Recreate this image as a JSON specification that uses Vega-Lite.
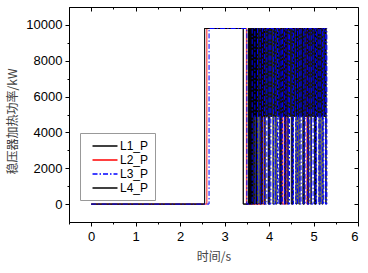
{
  "$schema": "https://vega.github.io/schema/vega-lite/v6.json",
  "width": 289,
  "height": 215,
  "autosize": "none",
  "padding": {"left": 69, "top": 7, "right": 10, "bottom": 51},
  "background": "white",
  "config": {
    "view": {"stroke": "black", "strokeWidth": 1},
    "axis": {"labelFont": "Liberation Sans", "labelFontSize": 13, "labelColor": "black", "titleFont": "Noto Sans CJK SC", "titleFontSize": 12, "titleFontWeight": "normal", "titleColor": "#444444", "domainColor": "black", "tickColor": "black", "grid": false, "format": "d"},
    "legend": {"labelFont": "Liberation Sans", "labelFontSize": 12, "labelColor": "black"}
  },
  "datasets": {
    "d": [
      {"t": 0, "p": 0, "s": "L2_P"}, {"t": 2.60, "p": 9800, "s": "L2_P"}, {"t": 3.49, "p": 0, "s": "L2_P"}, {"t": 3.83, "p": 9800, "s": "L2_P"}, {"t": 3.86, "p": 0, "s": "L2_P"}, {"t": 3.90, "p": 9800, "s": "L2_P"}, {"t": 4.30, "p": 0, "s": "L2_P"}, {"t": 4.34, "p": 9800, "s": "L2_P"}, {"t": 4.37, "p": 0, "s": "L2_P"}, {"t": 4.40, "p": 9800, "s": "L2_P"}, {"t": 4.85, "p": 0, "s": "L2_P"}, {"t": 4.88, "p": 9800, "s": "L2_P"}, {"t": 5.29, "p": 9800, "s": "L2_P"},

      {"t": 0, "p": 0, "s": "L1_P"}, {"t": 2.55, "p": 9800, "s": "L1_P"}, {"t": 3.42, "p": 0, "s": "L1_P"}, {"t": 3.53, "p": 9800, "s": "L1_P"}, {"t": 3.545, "p": 0, "s": "L1_P"}, {"t": 3.56, "p": 9800, "s": "L1_P"}, {"t": 3.575, "p": 0, "s": "L1_P"}, {"t": 3.59, "p": 9800, "s": "L1_P"}, {"t": 3.605, "p": 0, "s": "L1_P"}, {"t": 3.62, "p": 9800, "s": "L1_P"}, {"t": 3.635, "p": 4900, "s": "L1_P"}, {"t": 3.65, "p": 9800, "s": "L1_P"}, {"t": 3.665, "p": 0, "s": "L1_P"}, {"t": 3.68, "p": 9800, "s": "L1_P"}, {"t": 3.695, "p": 4900, "s": "L1_P"}, {"t": 3.71, "p": 9800, "s": "L1_P"}, {"t": 3.73, "p": 0, "s": "L1_P"}, {"t": 3.755, "p": 9800, "s": "L1_P"}, {"t": 3.78, "p": 4900, "s": "L1_P"}, {"t": 3.80, "p": 9800, "s": "L1_P"}, {"t": 3.825, "p": 0, "s": "L1_P"}, {"t": 3.85, "p": 9800, "s": "L1_P"}, {"t": 3.875, "p": 4900, "s": "L1_P"}, {"t": 3.90, "p": 9800, "s": "L1_P"}, {"t": 3.93, "p": 4900, "s": "L1_P"}, {"t": 3.955, "p": 9800, "s": "L1_P"}, {"t": 3.98, "p": 0, "s": "L1_P"}, {"t": 4.005, "p": 9800, "s": "L1_P"}, {"t": 4.03, "p": 4900, "s": "L1_P"}, {"t": 4.055, "p": 9800, "s": "L1_P"}, {"t": 4.085, "p": 0, "s": "L1_P"}, {"t": 4.11, "p": 9800, "s": "L1_P"}, {"t": 4.135, "p": 4900, "s": "L1_P"}, {"t": 4.16, "p": 9800, "s": "L1_P"}, {"t": 4.19, "p": 4900, "s": "L1_P"}, {"t": 4.215, "p": 9800, "s": "L1_P"}, {"t": 4.24, "p": 0, "s": "L1_P"}, {"t": 4.265, "p": 9800, "s": "L1_P"}, {"t": 4.29, "p": 4900, "s": "L1_P"}, {"t": 4.315, "p": 9800, "s": "L1_P"}, {"t": 4.345, "p": 0, "s": "L1_P"}, {"t": 4.37, "p": 9800, "s": "L1_P"}, {"t": 4.395, "p": 4900, "s": "L1_P"}, {"t": 4.42, "p": 9800, "s": "L1_P"}, {"t": 4.45, "p": 4900, "s": "L1_P"}, {"t": 4.475, "p": 9800, "s": "L1_P"}, {"t": 4.50, "p": 0, "s": "L1_P"}, {"t": 4.525, "p": 9800, "s": "L1_P"}, {"t": 4.55, "p": 4900, "s": "L1_P"}, {"t": 4.575, "p": 9800, "s": "L1_P"}, {"t": 4.605, "p": 0, "s": "L1_P"}, {"t": 4.63, "p": 9800, "s": "L1_P"}, {"t": 4.655, "p": 4900, "s": "L1_P"}, {"t": 4.68, "p": 9800, "s": "L1_P"}, {"t": 4.71, "p": 4900, "s": "L1_P"}, {"t": 4.735, "p": 9800, "s": "L1_P"}, {"t": 4.76, "p": 0, "s": "L1_P"}, {"t": 4.785, "p": 9800, "s": "L1_P"}, {"t": 4.81, "p": 4900, "s": "L1_P"}, {"t": 4.835, "p": 9800, "s": "L1_P"}, {"t": 4.865, "p": 0, "s": "L1_P"}, {"t": 4.89, "p": 9800, "s": "L1_P"}, {"t": 4.915, "p": 4900, "s": "L1_P"}, {"t": 4.94, "p": 9800, "s": "L1_P"}, {"t": 4.97, "p": 4900, "s": "L1_P"}, {"t": 4.995, "p": 9800, "s": "L1_P"}, {"t": 5.02, "p": 0, "s": "L1_P"}, {"t": 5.045, "p": 9800, "s": "L1_P"}, {"t": 5.07, "p": 4900, "s": "L1_P"}, {"t": 5.095, "p": 9800, "s": "L1_P"}, {"t": 5.125, "p": 0, "s": "L1_P"}, {"t": 5.15, "p": 9800, "s": "L1_P"}, {"t": 5.175, "p": 4900, "s": "L1_P"}, {"t": 5.20, "p": 9800, "s": "L1_P"}, {"t": 5.23, "p": 4900, "s": "L1_P"}, {"t": 5.255, "p": 9800, "s": "L1_P"}, {"t": 5.275, "p": 0, "s": "L1_P"}, {"t": 5.285, "p": 9800, "s": "L1_P"}, {"t": 5.29, "p": 9800, "s": "L1_P"},

      {"t": 0, "p": 0, "s": "L4_P"}, {"t": 2.55, "p": 9800, "s": "L4_P"}, {"t": 3.42, "p": 0, "s": "L4_P"}, {"t": 3.538, "p": 9800, "s": "L4_P"}, {"t": 3.552, "p": 0, "s": "L4_P"}, {"t": 3.568, "p": 9800, "s": "L4_P"}, {"t": 3.582, "p": 0, "s": "L4_P"}, {"t": 3.598, "p": 9800, "s": "L4_P"}, {"t": 3.612, "p": 0, "s": "L4_P"}, {"t": 3.628, "p": 9800, "s": "L4_P"}, {"t": 3.642, "p": 0, "s": "L4_P"}, {"t": 3.658, "p": 9800, "s": "L4_P"}, {"t": 3.672, "p": 4900, "s": "L4_P"}, {"t": 3.688, "p": 9800, "s": "L4_P"}, {"t": 3.702, "p": 0, "s": "L4_P"}, {"t": 3.718, "p": 9800, "s": "L4_P"}, {"t": 3.742, "p": 4900, "s": "L4_P"}, {"t": 3.768, "p": 9800, "s": "L4_P"}, {"t": 3.79, "p": 0, "s": "L4_P"}, {"t": 3.812, "p": 9800, "s": "L4_P"}, {"t": 3.838, "p": 4900, "s": "L4_P"}, {"t": 3.862, "p": 9800, "s": "L4_P"}, {"t": 3.888, "p": 0, "s": "L4_P"}, {"t": 3.915, "p": 9800, "s": "L4_P"}, {"t": 3.942, "p": 4900, "s": "L4_P"}, {"t": 3.968, "p": 9800, "s": "L4_P"}, {"t": 3.992, "p": 0, "s": "L4_P"}, {"t": 4.018, "p": 9800, "s": "L4_P"}, {"t": 4.042, "p": 4900, "s": "L4_P"}, {"t": 4.07, "p": 9800, "s": "L4_P"}, {"t": 4.097, "p": 4900, "s": "L4_P"}, {"t": 4.122, "p": 9800, "s": "L4_P"}, {"t": 4.148, "p": 0, "s": "L4_P"}, {"t": 4.175, "p": 9800, "s": "L4_P"}, {"t": 4.202, "p": 4900, "s": "L4_P"}, {"t": 4.228, "p": 9800, "s": "L4_P"}, {"t": 4.252, "p": 0, "s": "L4_P"}, {"t": 4.278, "p": 9800, "s": "L4_P"}, {"t": 4.302, "p": 4900, "s": "L4_P"}, {"t": 4.33, "p": 9800, "s": "L4_P"}, {"t": 4.357, "p": 4900, "s": "L4_P"}, {"t": 4.382, "p": 9800, "s": "L4_P"}, {"t": 4.408, "p": 0, "s": "L4_P"}, {"t": 4.435, "p": 9800, "s": "L4_P"}, {"t": 4.462, "p": 4900, "s": "L4_P"}, {"t": 4.488, "p": 9800, "s": "L4_P"}, {"t": 4.512, "p": 0, "s": "L4_P"}, {"t": 4.538, "p": 9800, "s": "L4_P"}, {"t": 4.562, "p": 4900, "s": "L4_P"}, {"t": 4.59, "p": 9800, "s": "L4_P"}, {"t": 4.617, "p": 4900, "s": "L4_P"}, {"t": 4.642, "p": 9800, "s": "L4_P"}, {"t": 4.668, "p": 0, "s": "L4_P"}, {"t": 4.695, "p": 9800, "s": "L4_P"}, {"t": 4.722, "p": 4900, "s": "L4_P"}, {"t": 4.748, "p": 9800, "s": "L4_P"}, {"t": 4.772, "p": 0, "s": "L4_P"}, {"t": 4.798, "p": 9800, "s": "L4_P"}, {"t": 4.822, "p": 4900, "s": "L4_P"}, {"t": 4.85, "p": 9800, "s": "L4_P"}, {"t": 4.877, "p": 4900, "s": "L4_P"}, {"t": 4.902, "p": 9800, "s": "L4_P"}, {"t": 4.928, "p": 0, "s": "L4_P"}, {"t": 4.955, "p": 9800, "s": "L4_P"}, {"t": 4.982, "p": 4900, "s": "L4_P"}, {"t": 5.008, "p": 9800, "s": "L4_P"}, {"t": 5.032, "p": 0, "s": "L4_P"}, {"t": 5.058, "p": 9800, "s": "L4_P"}, {"t": 5.082, "p": 4900, "s": "L4_P"}, {"t": 5.11, "p": 9800, "s": "L4_P"}, {"t": 5.137, "p": 4900, "s": "L4_P"}, {"t": 5.162, "p": 9800, "s": "L4_P"}, {"t": 5.188, "p": 0, "s": "L4_P"}, {"t": 5.215, "p": 9800, "s": "L4_P"}, {"t": 5.242, "p": 4900, "s": "L4_P"}, {"t": 5.268, "p": 9800, "s": "L4_P"}, {"t": 5.29, "p": 9800, "s": "L4_P"},

      {"t": 0, "p": 0, "s": "L3_P"}, {"t": 2.65, "p": 9800, "s": "L3_P"}, {"t": 3.50, "p": 0, "s": "L3_P"}, {"t": 3.62, "p": 9800, "s": "L3_P"}, {"t": 3.68, "p": 0, "s": "L3_P"}, {"t": 3.74, "p": 9800, "s": "L3_P"}, {"t": 3.80, "p": 0, "s": "L3_P"}, {"t": 3.85, "p": 9800, "s": "L3_P"}, {"t": 3.90, "p": 0, "s": "L3_P"}, {"t": 3.95, "p": 9800, "s": "L3_P"}, {"t": 4.00, "p": 0, "s": "L3_P"}, {"t": 4.04, "p": 9800, "s": "L3_P"}, {"t": 4.10, "p": 0, "s": "L3_P"}, {"t": 4.14, "p": 9800, "s": "L3_P"}, {"t": 4.19, "p": 0, "s": "L3_P"}, {"t": 4.22, "p": 9800, "s": "L3_P"}, {"t": 4.27, "p": 0, "s": "L3_P"}, {"t": 4.30, "p": 9800, "s": "L3_P"}, {"t": 4.35, "p": 0, "s": "L3_P"}, {"t": 4.38, "p": 9800, "s": "L3_P"}, {"t": 4.43, "p": 0, "s": "L3_P"}, {"t": 4.46, "p": 9800, "s": "L3_P"}, {"t": 4.52, "p": 0, "s": "L3_P"}, {"t": 4.55, "p": 9800, "s": "L3_P"}, {"t": 4.60, "p": 0, "s": "L3_P"}, {"t": 4.64, "p": 9800, "s": "L3_P"}, {"t": 4.69, "p": 0, "s": "L3_P"}, {"t": 4.72, "p": 9800, "s": "L3_P"}, {"t": 4.78, "p": 0, "s": "L3_P"}, {"t": 4.81, "p": 9800, "s": "L3_P"}, {"t": 4.86, "p": 0, "s": "L3_P"}, {"t": 4.90, "p": 9800, "s": "L3_P"}, {"t": 4.95, "p": 0, "s": "L3_P"}, {"t": 4.99, "p": 9800, "s": "L3_P"}, {"t": 5.04, "p": 0, "s": "L3_P"}, {"t": 5.07, "p": 9800, "s": "L3_P"}, {"t": 5.12, "p": 0, "s": "L3_P"}, {"t": 5.15, "p": 9800, "s": "L3_P"}, {"t": 5.20, "p": 0, "s": "L3_P"}, {"t": 5.23, "p": 9800, "s": "L3_P"}, {"t": 5.27, "p": 0, "s": "L3_P"}, {"t": 5.30, "p": 9800, "s": "L3_P"}
    ]
  },
  "data": {"name": "d"},
  "resolve": {"axis": {"x": "independent", "y": "independent"}},
  "layer": [
    {
      "mark": {"type": "line", "interpolate": "step-after", "strokeWidth": 1, "clip": true},
      "encoding": {
        "x": {"field": "t", "type": "quantitative", "scale": {"domain": [-0.5, 6], "nice": false, "zero": false},
              "axis": {"orient": "bottom", "title": "时间/s", "values": [0, 1, 2, 3, 4, 5, 6], "tickSize": 4, "labelPadding": 4, "titlePadding": 8, "labelFont": "Liberation Sans"}},
        "y": {"field": "p", "type": "quantitative", "scale": {"domain": [-1000, 11000], "nice": false, "zero": false},
              "axis": {"orient": "left", "title": "稳压器加热功率/kW", "values": [0, 2000, 4000, 6000, 8000, 10000], "tickSize": 4, "labelPadding": 3, "titlePadding": 6, "titleY": 114, "labelFont": "Liberation Sans"}},
        "color": {"field": "s", "type": "nominal", "scale": {"domain": ["L1_P", "L2_P", "L3_P", "L4_P"], "range": ["#000000", "#ff0000", "#0000ff", "#000000"]},
                  "legend": {"title": null, "orient": "none", "legendX": 11, "legendY": 126, "symbolType": "M-2,0H2", "symbolSize": 156, "symbolOffset": 12, "symbolStrokeWidth": 1.5, "strokeColor": "#999999", "padding": 6, "rowPadding": 1, "labelOffset": 8}},
        "strokeDash": {"field": "s", "type": "nominal", "scale": {"domain": ["L1_P", "L2_P", "L3_P", "L4_P"], "range": [[1, 0], [1, 0], [5, 2, 1.5, 2], [1, 0]]},
                  "legend": {"title": null, "orient": "none", "legendX": 11, "legendY": 126, "symbolType": "M-2,0H2", "symbolSize": 156, "symbolOffset": 12, "symbolStrokeWidth": 1.5, "strokeColor": "#999999", "padding": 6, "rowPadding": 1, "labelOffset": 8}}
      }
    },
    {
      "mark": {"type": "point", "opacity": 0},
      "encoding": {
        "x": {"field": "t", "type": "quantitative", "scale": {"domain": [-0.5, 6], "nice": false, "zero": false},
              "axis": {"orient": "bottom", "title": null, "values": [-0.5, 0.5, 1.5, 2.5, 3.5, 4.5, 5.5], "tickSize": 2, "labels": false, "domain": false}},
        "y": {"field": "p", "type": "quantitative", "scale": {"domain": [-1000, 11000], "nice": false, "zero": false},
              "axis": {"orient": "left", "title": null, "values": [1000, 3000, 5000, 7000, 9000], "tickSize": 2, "labels": false, "domain": false}}
      }
    },
    {
      "mark": {"type": "point", "opacity": 0},
      "encoding": {
        "x": {"field": "t", "type": "quantitative", "scale": {"domain": [-0.5, 6], "nice": false, "zero": false},
              "axis": {"orient": "top", "title": null, "values": [0, 1, 2, 3, 4, 5, 6], "tickSize": -4, "labels": false, "domain": false}},
        "y": {"field": "p", "type": "quantitative", "scale": {"domain": [-1000, 11000], "nice": false, "zero": false},
              "axis": {"orient": "right", "title": null, "values": [0, 2000, 4000, 6000, 8000, 10000], "tickSize": -4, "labels": false, "domain": false}}
      }
    },
    {
      "mark": {"type": "point", "opacity": 0},
      "encoding": {
        "x": {"field": "t", "type": "quantitative", "scale": {"domain": [-0.5, 6], "nice": false, "zero": false},
              "axis": {"orient": "top", "title": null, "values": [-0.5, 0.5, 1.5, 2.5, 3.5, 4.5, 5.5], "tickSize": -2, "labels": false, "domain": false}},
        "y": {"field": "p", "type": "quantitative", "scale": {"domain": [-1000, 11000], "nice": false, "zero": false},
              "axis": {"orient": "right", "title": null, "values": [1000, 3000, 5000, 7000, 9000], "tickSize": -2, "labels": false, "domain": false}}
      }
    }
  ]
}
